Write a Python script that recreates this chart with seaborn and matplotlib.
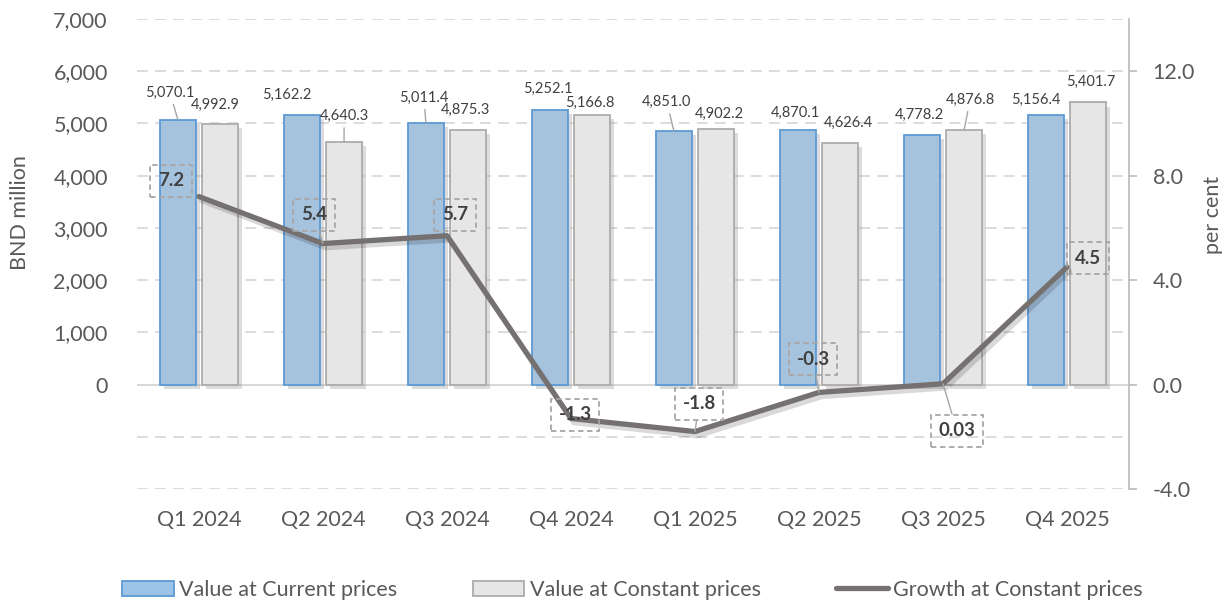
#import area
import numpy as np
import pandas as pd
import matplotlib
matplotlib.use('Agg')
import matplotlib.pyplot as plt
import matplotlib.patheffects as pe
from matplotlib.patches import Patch
from matplotlib.lines import Line2D
import seaborn as sns

#data area
quarters = ['Q1 2024', 'Q2 2024', 'Q3 2024', 'Q4 2024',
            'Q1 2025', 'Q2 2025', 'Q3 2025', 'Q4 2025']
current = [5070.1, 5162.2, 5011.4, 5252.1, 4851.0, 4870.1, 4778.2, 5156.4]
constant = [4992.9, 4640.3, 4875.3, 5166.8, 4902.2, 4626.4, 4876.8, 5401.7]
growth = [7.2, 5.4, 5.7, -1.3, -1.8, -0.3, 0.03, 4.5]
series = ['Value at Current prices', 'Value at Constant prices', 'Growth at Constant prices']

left_ticks = [0, 1000, 2000, 3000, 4000, 5000, 6000, 7000]
right_ticks = [-4, 0, 4, 8, 12]

# label placement (pixel offsets from the mark, up is positive) and leader flags
cur_off = [(-8, 27), (-15, 20), (-2, 25), (-2, 21), (-7, 29), (-2, 17), (-2, 20), (-10, 15)]
cur_lead = [True, False, True, False, True, False, False, False]
con_off = [(-5, 19), (0, 26), (-3, 20), (-2, 12), (3, 15), (8, 20), (6, 30), (3, 21)]
con_lead = [False, True, False, False, False, False, True, False]
gr_off = [(-28, 16), (-9, 29), (8, 21), (4, 4), (4, 28), (-6, 33), (14, -47), (21, 9)]
gr_lead = [False, True, False, False, True, True, True, False]

# colours
blue_fill, blue_edge = '#9DC3E6', '#5B9BD5'
grey_fill, grey_edge = '#E7E6E6', '#AEABAB'
line_col = '#767171'
text_col = '#595959'
grid_col = '#D9D9D9'
fs = 15.5

sns.set_style('white')
plt.rcParams['font.family'] = ['Lato', 'DejaVu Sans']

bars = pd.DataFrame({
    'quarter': quarters * 2,
    'value': current + constant,
    'series': [series[0]] * len(quarters) + [series[1]] * len(quarters),
})
line = pd.DataFrame({'quarter': quarters, 'growth': growth})

fig = plt.figure(figsize=(12.28, 6), dpi=100)
ax = fig.add_axes([137 / 1228, 1 - 489 / 600, 992 / 1228, 470 / 600])

sns.barplot(data=bars, x='quarter', y='value', hue='series', hue_order=series[:2],
            palette=[blue_fill, grey_fill], width=0.68, gap=0.15, errorbar=None,
            legend=False, ax=ax, zorder=3)

shadow = [pe.SimplePatchShadow(offset=(3, -3), shadow_rgbFace='#8c8c8c', alpha=0.3), pe.Normal()]
for cont, ec in zip(ax.containers, [blue_edge, grey_edge]):
    for p in cont.patches:
        p.set_edgecolor(ec)
        p.set_linewidth(1.3)
        p.set_path_effects(shadow)

ax.set_ylim(-2000, 7000)
ax.set_yticks(left_ticks)
ax.set_yticklabels([f'{v:,.0f}' for v in left_ticks])
for y in [-2000, -1000] + left_ticks[1:]:
    ax.axhline(y, color=grid_col, lw=1.3, ls=(0, (6, 4)), zorder=0)
ax.axhline(0, color=grid_col, lw=1.5, zorder=1)
ax.set_xlim(-0.5, len(quarters) - 0.5)
sns.despine(ax=ax, left=True, bottom=True)
ax.tick_params(axis='y', length=0, pad=21, labelsize=fs, labelcolor=text_col)
ax.tick_params(axis='x', length=0, pad=15, labelsize=fs, labelcolor=text_col)
ax.set_xlabel('')
ax.set_ylabel('BND million', fontsize=fs, color=text_col, va='center')
ax.yaxis.set_label_coords(-0.118, 0.589)

# bar value labels
for cont, vals, offs, leads in [(ax.containers[0], current, cur_off, cur_lead),
                                (ax.containers[1], constant, con_off, con_lead)]:
    for p, v, (dx, dy), lead in zip(cont.patches, vals, offs, leads):
        xc = p.get_x() + p.get_width() / 2
        ax.annotate(f'{v:,.1f}', xy=(xc, v), xytext=(dx, dy), textcoords='offset pixels',
                    ha='center', va='center', fontsize=10.5, color='#404040', zorder=5,
                    arrowprops=dict(arrowstyle='-', color='#A6A6A6', lw=1.0,
                                    shrinkA=1, shrinkB=0) if lead else None)

# growth line on the secondary axis
ax2 = ax.twinx()
sns.pointplot(data=line, x='quarter', y='growth', color=line_col, markers='',
              linewidth=3.8, errorbar=None, ax=ax2)
for ln in ax2.lines:
    ln.set_path_effects([pe.SimpleLineShadow(offset=(2, -3), alpha=0.15), pe.Normal()])
    ln.set_solid_joinstyle('round')
ax2.set_xlim(-0.5, len(quarters) - 0.5)
ax2.set_ylim(-4, 14)
ax2.set_yticks(right_ticks)
ax2.set_yticklabels([f'{v:.1f}' for v in right_ticks])
for s in ['top', 'left', 'bottom']:
    ax2.spines[s].set_visible(False)
ax2.spines['right'].set_color('#BFBFBF')
ax2.spines['right'].set_linewidth(1.3)
ax2.tick_params(axis='y', direction='out', length=6, width=1.3, color='#BFBFBF',
                pad=11, labelsize=fs, labelcolor=text_col)
ax2.set_xlabel('')
ax2.set_ylabel('per cent', fontsize=fs, color=text_col, va='center', rotation=90)
ax2.yaxis.set_label_coords(1.0847, 0.583)

for i, (g, (dx, dy), lead) in enumerate(zip(growth, gr_off, gr_lead)):
    ax2.annotate(f'{g:g}', xy=(i, g), xytext=(dx, dy), textcoords='offset pixels',
                 ha='center', va='center', fontsize=13.5, fontweight='bold', color='#404040',
                 bbox=dict(boxstyle='square,pad=0.4', fc='none', ec='#A6A6A6', lw=1.3, ls=(0, (3, 2))),
                 arrowprops=dict(arrowstyle='-', color='#A6A6A6', lw=1.0,
                                 shrinkA=0, shrinkB=0) if lead else None,
                 zorder=6)

handles = [Patch(facecolor=blue_fill, edgecolor=blue_edge, lw=1.3),
           Patch(facecolor=grey_fill, edgecolor=grey_edge, lw=1.3),
           Line2D([], [], color=line_col, lw=3.8, solid_capstyle='round')]
fig.legend(handles, series, loc='center', bbox_to_anchor=(0.515, 1 - 590 / 600), ncol=3,
           frameon=False, fontsize=fs, labelcolor=text_col, handlelength=2.4,
           handletextpad=0.25, columnspacing=3.5)

fig.savefig('out.png', dpi=100)
